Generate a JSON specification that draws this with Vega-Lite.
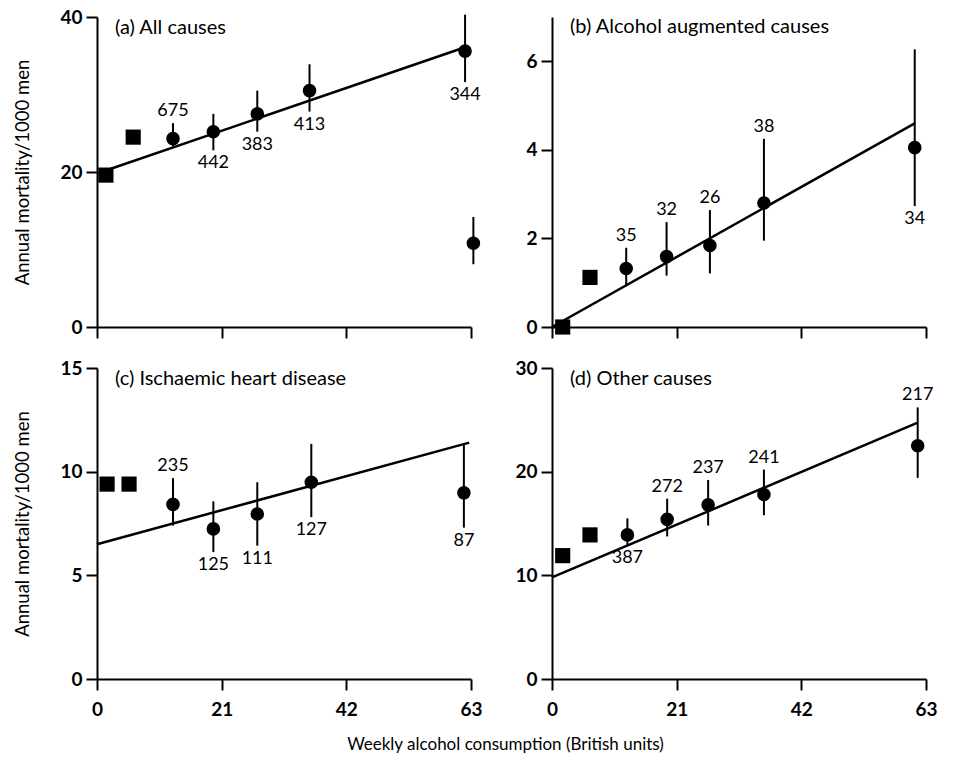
{
  "$schema": "https://vega.github.io/schema/vega-lite/v6.json",
  "background": "white",
  "padding": {"left": 13, "top": 8, "right": 5, "bottom": 5},
  "config": {
    "view": {"stroke": null},
    "font": "Lato",
    "axis": {
      "grid": false,
      "domainColor": "black",
      "domainWidth": 2,
      "tickColor": "black",
      "tickWidth": 2,
      "tickSize": 11,
      "labelFont": "Lato",
      "labelFontSize": 19,
      "labelFontWeight": "bold",
      "labelColor": "black",
      "labelFlush": false,
      "titleFont": "Lato",
      "titleFontSize": 18.5,
      "titleFontWeight": "normal",
      "titleColor": "black"
    },
    "axisX": {"labelPadding": 10},
    "axisY": {"labelPadding": 4},
    "title": {"font": "Lato", "fontSize": 20, "fontWeight": "normal", "color": "black"}
  },
  "datasets": {
    "pts": [
      {"panel": "a", "x": 1.5, "y": 19.6, "kind": "square"},
      {"panel": "a", "x": 6.1, "y": 24.5, "kind": "square"},
      {"panel": "a", "x": 12.8, "y": 24.3, "lo": 23.3, "hi": 26.3, "n": "675", "side": "above", "kind": "circle"},
      {"panel": "a", "x": 19.6, "y": 25.2, "lo": 22.8, "hi": 27.5, "n": "442", "side": "below", "kind": "circle"},
      {"panel": "a", "x": 27.0, "y": 27.5, "lo": 25.2, "hi": 30.5, "n": "383", "side": "below", "kind": "circle"},
      {"panel": "a", "x": 35.8, "y": 30.5, "lo": 27.8, "hi": 33.9, "n": "413", "side": "below", "kind": "circle"},
      {"panel": "a", "x": 62.0, "y": 35.6, "lo": 31.6, "hi": 40.3, "n": "344", "side": "below", "kind": "circle"},
      {"panel": "a", "x": 63.4, "y": 10.8, "lo": 8.1, "hi": 14.2, "kind": "circle"},
      {"panel": "b", "x": 1.8, "y": 0.0, "kind": "square"},
      {"panel": "b", "x": 6.4, "y": 1.12, "kind": "square"},
      {"panel": "b", "x": 12.5, "y": 1.32, "lo": 0.92, "hi": 1.79, "n": "35", "side": "above", "kind": "circle"},
      {"panel": "b", "x": 19.3, "y": 1.59, "lo": 1.16, "hi": 2.37, "n": "32", "side": "above", "kind": "circle"},
      {"panel": "b", "x": 26.6, "y": 1.84, "lo": 1.21, "hi": 2.64, "n": "26", "side": "above", "kind": "circle"},
      {"panel": "b", "x": 35.7, "y": 2.8, "lo": 1.95, "hi": 4.25, "n": "38", "side": "above", "kind": "circle"},
      {"panel": "b", "x": 61.1, "y": 4.05, "lo": 2.73, "hi": 6.27, "n": "34", "side": "below", "kind": "circle"},
      {"panel": "c", "x": 1.7, "y": 9.4, "kind": "square"},
      {"panel": "c", "x": 5.4, "y": 9.4, "kind": "square"},
      {"panel": "c", "x": 12.8, "y": 8.42, "lo": 7.4, "hi": 9.69, "n": "235", "side": "above", "kind": "circle"},
      {"panel": "c", "x": 19.6, "y": 7.24, "lo": 6.12, "hi": 8.57, "n": "125", "side": "below", "kind": "circle"},
      {"panel": "c", "x": 27.0, "y": 7.96, "lo": 6.43, "hi": 9.49, "n": "111", "side": "below", "kind": "circle"},
      {"panel": "c", "x": 36.1, "y": 9.49, "lo": 7.81, "hi": 11.34, "n": "127", "side": "below", "kind": "circle"},
      {"panel": "c", "x": 61.8, "y": 8.98, "lo": 7.3, "hi": 11.3, "n": "87", "side": "below", "kind": "circle"},
      {"panel": "d", "x": 1.8, "y": 11.9, "kind": "square"},
      {"panel": "d", "x": 6.4, "y": 13.9, "kind": "square"},
      {"panel": "d", "x": 12.7, "y": 13.9, "lo": 12.9, "hi": 15.5, "n": "387", "side": "below", "kind": "circle"},
      {"panel": "d", "x": 19.4, "y": 15.4, "lo": 13.75, "hi": 17.4, "n": "272", "side": "above", "kind": "circle"},
      {"panel": "d", "x": 26.3, "y": 16.8, "lo": 14.8, "hi": 19.2, "n": "237", "side": "above", "kind": "circle"},
      {"panel": "d", "x": 35.7, "y": 17.8, "lo": 15.8, "hi": 20.2, "n": "241", "side": "above", "kind": "circle"},
      {"panel": "d", "x": 61.6, "y": 22.5, "lo": 19.4, "hi": 26.2, "n": "217", "side": "above", "kind": "circle"}
    ],
    "fit": [
      {"panel": "a", "x": 0, "y": 19.8},
      {"panel": "a", "x": 62, "y": 36.1},
      {"panel": "b", "x": 0, "y": 0.0},
      {"panel": "b", "x": 61.1, "y": 4.6},
      {"panel": "c", "x": 0, "y": 6.5},
      {"panel": "c", "x": 62.7, "y": 11.4},
      {"panel": "d", "x": 0, "y": 9.8},
      {"panel": "d", "x": 61.5, "y": 24.7}
    ]
  },
  "title": {
    "text": "Weekly alcohol consumption (British units)",
    "orient": "bottom",
    "anchor": "middle",
    "frame": "bounds",
    "offset": 18,
    "dx": 30,
    "fontSize": 17
  },
  "concat": [
    {
      "width": 374, "height": 310,
      "title": {"text": "(a) All causes", "anchor": "start", "frame": "group", "orient": "top", "baseline": "middle", "offset": -40, "dx": 18},
      "layer": [
        {"data": {"name": "pts"}, "transform": [{"filter": "datum.panel === 'a' && isValid(datum.lo)"}],
         "mark": {"type": "rule", "color": "black", "strokeWidth": 2},
         "encoding": {
           "x": {"field": "x", "type": "quantitative", "scale": {"domain": [0, 63], "nice": false},
                 "axis": {"values": [0, 21, 42, 63], "labels": false, "title": null}},
           "y": {"field": "lo", "type": "quantitative", "scale": {"domain": [0, 40], "nice": false},
                 "axis": {"values": [0, 20, 40], "title": "Annual mortality/1000 men", "titlePadding": 27}},
           "y2": {"field": "hi"}
         }},
        {"data": {"name": "fit"}, "transform": [{"filter": "datum.panel === 'a'"}],
         "mark": {"type": "line", "color": "black", "strokeWidth": 2.5},
         "encoding": {"x": {"field": "x", "type": "quantitative"}, "y": {"field": "y", "type": "quantitative"}}},
        {"data": {"name": "pts"}, "transform": [{"filter": "datum.panel === 'a'"}],
         "mark": {"type": "point", "filled": true, "color": "black", "opacity": 1, "strokeWidth": 0},
         "encoding": {
           "x": {"field": "x", "type": "quantitative"},
           "y": {"field": "y", "type": "quantitative"},
           "shape": {"field": "kind", "type": "nominal", "scale": {"domain": ["circle", "square"], "range": ["circle", "square"]}, "legend": null},
           "size": {"field": "kind", "type": "nominal", "scale": {"domain": ["circle", "square"], "range": [185, 230]}, "legend": null}
         }},
        {"data": {"name": "pts"}, "transform": [{"filter": "datum.panel === 'a' && datum.side === 'above'"}],
         "mark": {"type": "text", "baseline": "bottom", "dy": -3, "fontSize": 18, "color": "black"},
         "encoding": {"x": {"field": "x", "type": "quantitative"}, "y": {"field": "hi", "type": "quantitative"}, "text": {"field": "n"}}},
        {"data": {"name": "pts"}, "transform": [{"filter": "datum.panel === 'a' && datum.side === 'below'"}],
         "mark": {"type": "text", "baseline": "top", "dy": 4, "fontSize": 18, "color": "black"},
         "encoding": {"x": {"field": "x", "type": "quantitative"}, "y": {"field": "lo", "type": "quantitative"}, "text": {"field": "n"}}}
      ]
    },
    {
      "width": 374, "height": 310,
      "title": {"text": "(b) Alcohol augmented causes", "anchor": "start", "frame": "group", "orient": "top", "baseline": "middle", "offset": -30, "dx": 18},
      "layer": [
        {"data": {"name": "pts"}, "transform": [{"filter": "datum.panel === 'b' && isValid(datum.lo)"}],
         "mark": {"type": "rule", "color": "black", "strokeWidth": 2},
         "encoding": {
           "x": {"field": "x", "type": "quantitative", "scale": {"domain": [0, 63], "nice": false},
                 "axis": {"values": [0, 21, 42, 63], "labels": false, "title": null}},
           "y": {"field": "lo", "type": "quantitative", "scale": {"domain": [0, 7], "nice": false},
                 "axis": {"values": [0, 2, 4, 6], "title": null}},
           "y2": {"field": "hi"}
         }},
        {"data": {"name": "fit"}, "transform": [{"filter": "datum.panel === 'b'"}],
         "mark": {"type": "line", "color": "black", "strokeWidth": 2.5},
         "encoding": {"x": {"field": "x", "type": "quantitative"}, "y": {"field": "y", "type": "quantitative"}}},
        {"data": {"name": "pts"}, "transform": [{"filter": "datum.panel === 'b'"}],
         "mark": {"type": "point", "filled": true, "color": "black", "opacity": 1, "strokeWidth": 0},
         "encoding": {
           "x": {"field": "x", "type": "quantitative"},
           "y": {"field": "y", "type": "quantitative"},
           "shape": {"field": "kind", "type": "nominal", "scale": {"domain": ["circle", "square"], "range": ["circle", "square"]}, "legend": null},
           "size": {"field": "kind", "type": "nominal", "scale": {"domain": ["circle", "square"], "range": [185, 230]}, "legend": null}
         }},
        {"data": {"name": "pts"}, "transform": [{"filter": "datum.panel === 'b' && datum.side === 'above'"}],
         "mark": {"type": "text", "baseline": "bottom", "dy": -3, "fontSize": 18, "color": "black"},
         "encoding": {"x": {"field": "x", "type": "quantitative"}, "y": {"field": "hi", "type": "quantitative"}, "text": {"field": "n"}}},
        {"data": {"name": "pts"}, "transform": [{"filter": "datum.panel === 'b' && datum.side === 'below'"}],
         "mark": {"type": "text", "baseline": "top", "dy": 4, "fontSize": 18, "color": "black"},
         "encoding": {"x": {"field": "x", "type": "quantitative"}, "y": {"field": "lo", "type": "quantitative"}, "text": {"field": "n"}}}
      ]
    },
    {
      "width": 374, "height": 311,
      "title": {"text": "(c) Ischaemic heart disease", "anchor": "start", "frame": "group", "orient": "top", "baseline": "middle", "offset": -40, "dx": 18},
      "layer": [
        {"data": {"name": "pts"}, "transform": [{"filter": "datum.panel === 'c' && isValid(datum.lo)"}],
         "mark": {"type": "rule", "color": "black", "strokeWidth": 2},
         "encoding": {
           "x": {"field": "x", "type": "quantitative", "scale": {"domain": [0, 63], "nice": false},
                 "axis": {"values": [0, 21, 42, 63], "title": null}},
           "y": {"field": "lo", "type": "quantitative", "scale": {"domain": [0, 15], "nice": false},
                 "axis": {"values": [0, 5, 10, 15], "title": "Annual mortality/1000 men", "titlePadding": 27}},
           "y2": {"field": "hi"}
         }},
        {"data": {"name": "fit"}, "transform": [{"filter": "datum.panel === 'c'"}],
         "mark": {"type": "line", "color": "black", "strokeWidth": 2.5},
         "encoding": {"x": {"field": "x", "type": "quantitative"}, "y": {"field": "y", "type": "quantitative"}}},
        {"data": {"name": "pts"}, "transform": [{"filter": "datum.panel === 'c'"}],
         "mark": {"type": "point", "filled": true, "color": "black", "opacity": 1, "strokeWidth": 0},
         "encoding": {
           "x": {"field": "x", "type": "quantitative"},
           "y": {"field": "y", "type": "quantitative"},
           "shape": {"field": "kind", "type": "nominal", "scale": {"domain": ["circle", "square"], "range": ["circle", "square"]}, "legend": null},
           "size": {"field": "kind", "type": "nominal", "scale": {"domain": ["circle", "square"], "range": [185, 230]}, "legend": null}
         }},
        {"data": {"name": "pts"}, "transform": [{"filter": "datum.panel === 'c' && datum.side === 'above'"}],
         "mark": {"type": "text", "baseline": "bottom", "dy": -3, "fontSize": 18, "color": "black"},
         "encoding": {"x": {"field": "x", "type": "quantitative"}, "y": {"field": "hi", "type": "quantitative"}, "text": {"field": "n"}}},
        {"data": {"name": "pts"}, "transform": [{"filter": "datum.panel === 'c' && datum.side === 'below'"}],
         "mark": {"type": "text", "baseline": "top", "dy": 4, "fontSize": 18, "color": "black"},
         "encoding": {"x": {"field": "x", "type": "quantitative"}, "y": {"field": "lo", "type": "quantitative"}, "text": {"field": "n"}}}
      ]
    },
    {
      "width": 374, "height": 311,
      "title": {"text": "(d) Other causes", "anchor": "start", "frame": "group", "orient": "top", "baseline": "middle", "offset": -40, "dx": 18},
      "layer": [
        {"data": {"name": "pts"}, "transform": [{"filter": "datum.panel === 'd' && isValid(datum.lo)"}],
         "mark": {"type": "rule", "color": "black", "strokeWidth": 2},
         "encoding": {
           "x": {"field": "x", "type": "quantitative", "scale": {"domain": [0, 63], "nice": false},
                 "axis": {"values": [0, 21, 42, 63], "title": null}},
           "y": {"field": "lo", "type": "quantitative", "scale": {"domain": [0, 30], "nice": false},
                 "axis": {"values": [0, 10, 20, 30], "title": null}},
           "y2": {"field": "hi"}
         }},
        {"data": {"name": "fit"}, "transform": [{"filter": "datum.panel === 'd'"}],
         "mark": {"type": "line", "color": "black", "strokeWidth": 2.5},
         "encoding": {"x": {"field": "x", "type": "quantitative"}, "y": {"field": "y", "type": "quantitative"}}},
        {"data": {"name": "pts"}, "transform": [{"filter": "datum.panel === 'd'"}],
         "mark": {"type": "point", "filled": true, "color": "black", "opacity": 1, "strokeWidth": 0},
         "encoding": {
           "x": {"field": "x", "type": "quantitative"},
           "y": {"field": "y", "type": "quantitative"},
           "shape": {"field": "kind", "type": "nominal", "scale": {"domain": ["circle", "square"], "range": ["circle", "square"]}, "legend": null},
           "size": {"field": "kind", "type": "nominal", "scale": {"domain": ["circle", "square"], "range": [185, 230]}, "legend": null}
         }},
        {"data": {"name": "pts"}, "transform": [{"filter": "datum.panel === 'd' && datum.side === 'above'"}],
         "mark": {"type": "text", "baseline": "bottom", "dy": -3, "fontSize": 18, "color": "black"},
         "encoding": {"x": {"field": "x", "type": "quantitative"}, "y": {"field": "hi", "type": "quantitative"}, "text": {"field": "n"}}},
        {"data": {"name": "pts"}, "transform": [{"filter": "datum.panel === 'd' && datum.side === 'below'"}],
         "mark": {"type": "text", "baseline": "top", "dy": 4, "fontSize": 18, "color": "black"},
         "encoding": {"x": {"field": "x", "type": "quantitative"}, "y": {"field": "lo", "type": "quantitative"}, "text": {"field": "n"}}}
      ]
    }
  ],
  "columns": 2,
  "bounds": "flush",
  "spacing": {"row": 41, "column": 81},
  "resolve": {"scale": {"x": "independent", "y": "independent"}}
}
